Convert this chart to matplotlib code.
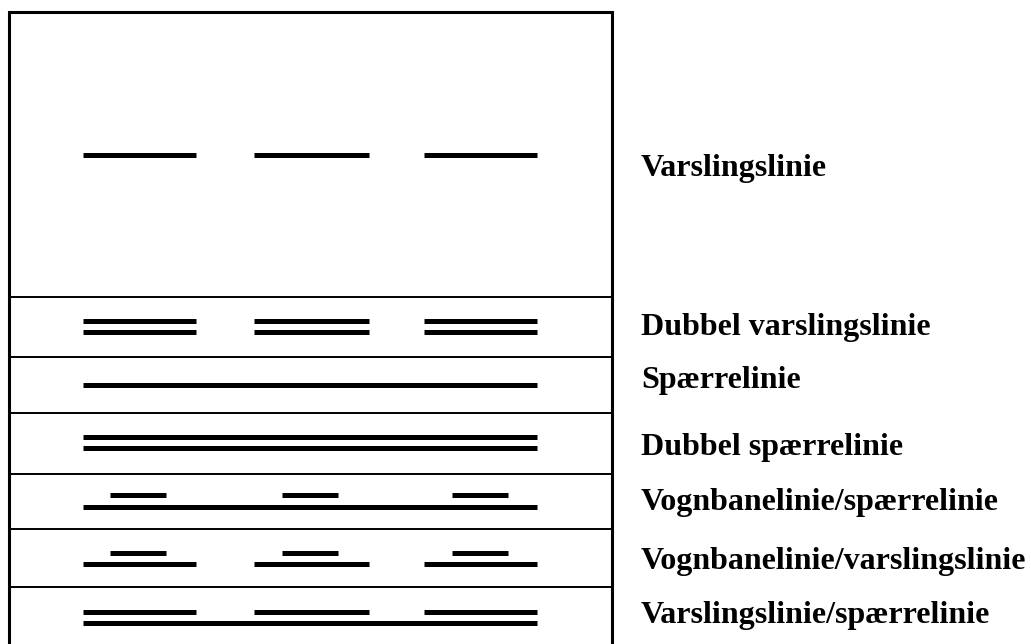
import matplotlib.pyplot as plt

# Road marking types, one per row (top to bottom)
labels = ["Varslingslinie", "Dubbel varslingslinie", "Spærrelinie",
          "Dubbel spærrelinie", "Vognbanelinie/spærrelinie",
          "Vognbanelinie/varslingslinie", "Varslingslinie/spærrelinie"]
label_baseline = [176, 335, 388, 455, 510, 569, 623]

# Row boundaries (pixel rows of the table)
row_edges = [12, 297, 357, 413, 474, 529, 587, 646]

# Long dashes and short dashes (start x, end x)
long_dashes = [(83, 196), (254, 369), (424, 537)]
short_dashes = [(110, 166), (282, 338), (452, 508)]
solid = (83, 537)

# For each row: list of (kind, y)
rows = [
    [("long", 155)],
    [("long", 321), ("long", 332)],
    [("solid", 385)],
    [("solid", 437), ("solid", 448)],
    [("short", 495), ("solid", 507)],
    [("short", 553), ("long", 564)],
    [("long", 612), ("solid", 623)],
]

fig = plt.figure(figsize=(10.31, 6.44), dpi=100)
ax = fig.add_axes([0, 0, 1, 1])
ax.set_xlim(0, 1031)
ax.set_ylim(644, 0)
ax.axis("off")

# table frame
box_left, box_right = 9, 612
ax.plot([box_left, box_right, box_right, box_left, box_left],
        [row_edges[-1], row_edges[-1], row_edges[0], row_edges[0], row_edges[-1]],
        color="black", lw=2.2, solid_joinstyle="miter")
for y in row_edges[1:-1]:
    ax.plot([box_left, box_right], [y, y], color="black", lw=1.4)

lw = 3.6
for marks in rows:
    for kind, y in marks:
        if kind == "solid":
            segs = [solid]
        elif kind == "long":
            segs = long_dashes
        else:
            segs = short_dashes
        for x0, x1 in segs:
            ax.plot([x0, x1], [y, y], color="black", lw=lw, solid_capstyle="butt")

for text, y in zip(labels, label_baseline):
    ax.text(641, y, text, fontsize=23, fontweight="bold",
            family="Liberation Serif", va="baseline", ha="left")

fig.savefig("out.png", dpi=100)
